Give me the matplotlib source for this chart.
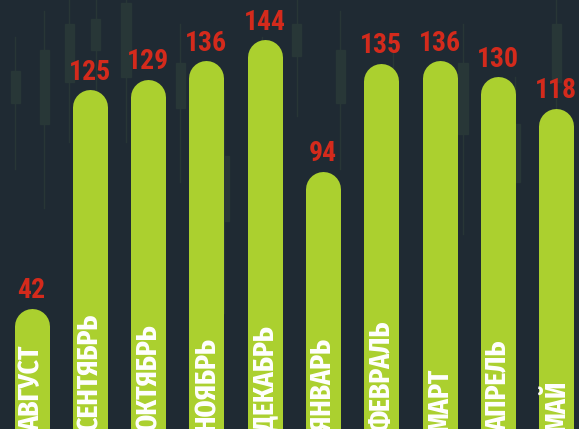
import matplotlib
matplotlib.use("Agg")
import matplotlib.pyplot as plt
from matplotlib.patches import Rectangle

months = ["АВГУСТ", "СЕНТЯБРЬ", "ОКТЯБРЬ", "НОЯБРЬ", "ДЕКАБРЬ",
          "ЯНВАРЬ", "ФЕВРАЛЬ", "МАРТ", "АПРЕЛЬ", "МАЙ"]
values = [42, 125, 129, 136, 144, 94, 135, 136, 130, 118]

# faint candlesticks in the background (x, body low, body high, wick low, wick high)
candle_x = [-0.28, 0.22, 0.65, 1.1, 1.62, 2.55, 3.3, 3.95, 4.55, 5.3, 6.2, 7.4, 8.3, 9.0]
candle_lo = [120, 112, 128, 140, 130, 118, 75, 110, 138, 120, 95, 108, 90, 128]
candle_hi = [132, 140, 150, 152, 158, 135, 100, 128, 150, 140, 120, 135, 112, 150]
wick_lo = [95, 80, 105, 118, 105, 90, 40, 80, 115, 95, 60, 70, 55, 100]
wick_hi = [145, 155, 160, 162, 162, 150, 125, 145, 160, 155, 140, 150, 130, 160]

bg = "#1f2a33"
bar_color = "#abd02f"
num_color = "#d42a1c"

W, H = 579, 429
fig = plt.figure(figsize=(W / 100, H / 100), dpi=100, facecolor=bg)
ax = fig.add_axes([0, 0, 1, 1])
ax.set_facecolor(bg)

step_px = 58.3
x0_px = 31.5
px_per_unit = 2.63
zero_px = 418.5
ax.set_xlim(-x0_px / step_px, (W - x0_px) / step_px)
ybot = -(H - zero_px) / px_per_unit
ytop = zero_px / px_per_unit
ax.set_ylim(ybot, ytop)
ax.axis("off")

# background candles
for x, lo, hi, wl, wh in zip(candle_x, candle_lo, candle_hi, wick_lo, wick_hi):
    ax.plot([x, x], [wl, wh], color="#283636", lw=1, zorder=0)
    ax.add_patch(Rectangle((x - 0.08, lo), 0.16, hi - lo, color="#283737", zorder=0))

bar_px = 35
bar_pt = bar_px * 72 / 100
r_units = (bar_px / 2) / px_per_unit

num_font = ["Roboto Condensed", "DejaVu Sans"]
lab_font = ["Fira Sans Extra Condensed", "DejaVu Sans"]

for i, (m, v) in enumerate(zip(months, values)):
    ax.plot([i, i], [ybot - 10, v - r_units], color=bar_color, lw=bar_pt,
            solid_capstyle="round", zorder=2)
    ax.text(i, v + 10 / px_per_unit, str(v), color=num_color, fontsize=20,
            fontweight="bold", family=num_font, ha="center", va="baseline", zorder=3)
    ax.text(i + 0.01, ybot - 0.8, m, color="white", fontsize=21.5, fontweight="bold",
            family=lab_font, rotation=90, ha="center", va="bottom", zorder=3)

fig.savefig("out.png", dpi=100, facecolor=bg)
